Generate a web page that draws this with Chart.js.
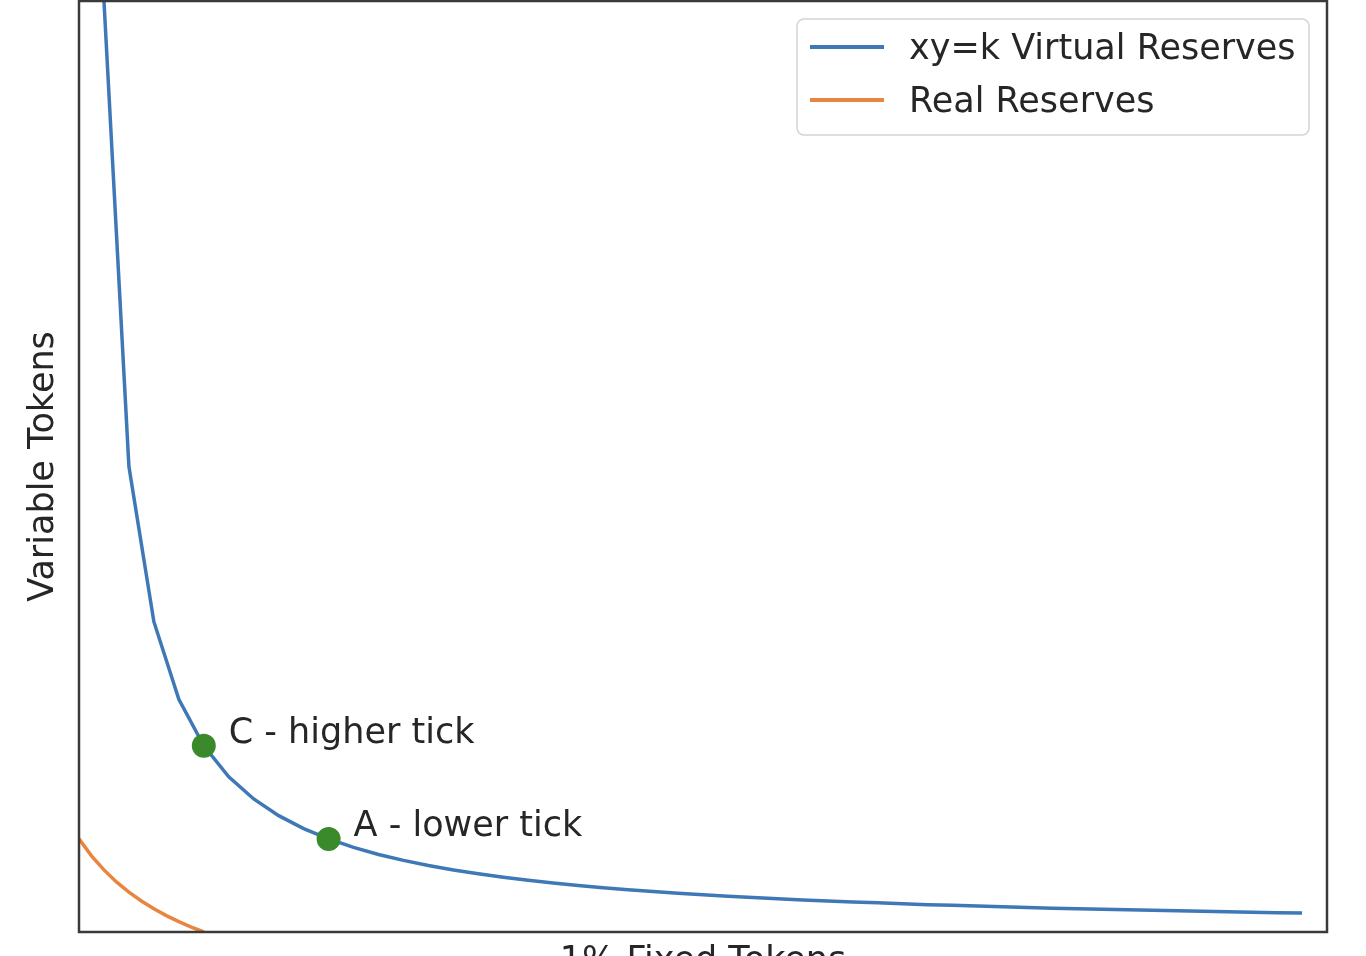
<!DOCTYPE html>
<html>
<head>
<meta charset="utf-8">
<script src="https://cdn.jsdelivr.net/npm/chart.js@4.4.1/dist/chart.umd.min.js"></script>
<style>
  html, body { margin: 0; padding: 0; background: #ffffff; overflow: hidden; }
  #wrap { position: relative; width: 1366px; height: 1000px; }
</style>
</head>
<body>
<div id="wrap"><canvas id="c"></canvas></div>
<script>
// ---- data ----
const fixedTokens = [1,2,3,4,5,6,7,8,9,10,11,12,13,14,15,16,17,18,19,20,21,22,23,24,25,26,27,28,29,30,31,32,33,34,35,36,37,38,39,40,41,42,43,44,45,46,47,48,49];
const virtualReserves = [100,50,33.33,25,20,16.67,14.29,12.5,11.11,10,9.09,8.33,7.69,7.14,6.67,6.25,5.88,5.56,5.26,5,4.76,4.55,4.35,4.17,4,3.85,3.7,3.57,3.45,3.33,3.23,3.13,3.03,2.94,2.86,2.78,2.7,2.63,2.56,2.5,2.44,2.38,2.33,2.27,2.22,2.17,2.13,2.08,2.04];
const realFixed = [0,0.5,1,1.5,2,2.5,3,3.5,4,4.5,5];
const realReserves = [10,8.18,6.67,5.38,4.29,3.33,2.5,1.76,1.11,0.53,0];
const tickX = [5, 10];
const tickY = [20, 10];
const tickLabels = ['C - higher tick', 'A - lower tick'];
const seriesLabels = ['xy=k Virtual Reserves', 'Real Reserves'];
const axisTitles = { x: '1% Fixed Tokens', y: 'Variable Tokens' };
const xRange = [0, 50];
const yRange = [0, 100];

const FONT = 'DejaVu Sans';
const FONT_SIZE = 35;
const BLUE = '#3f78b6';
const ORANGE = '#e8853f';
const GREEN = '#3a8a2c';

const toXY = (xs, ys) => xs.map((x, i) => ({ x: x, y: ys[i] }));

const framePlugin = {
  id: 'frame',
  afterDatasetsDraw(chart) {
    const { ctx, chartArea: a } = chart;
    ctx.save();
    ctx.strokeStyle = '#3a3a3a';
    ctx.lineWidth = 2.5;
    ctx.strokeRect(a.left, a.top, a.right - a.left, a.bottom - a.top);
    ctx.restore();
  }
};

const annotationPlugin = {
  id: 'tickLabels',
  afterDatasetsDraw(chart) {
    const { ctx, scales } = chart;
    ctx.save();
    ctx.font = FONT_SIZE + 'px "' + FONT + '"';
    ctx.fillStyle = '#262626';
    ctx.textBaseline = 'middle';
    ctx.textAlign = 'left';
    tickLabels.forEach((t, i) => {
      const px = scales.x.getPixelForValue(tickX[i]);
      const py = scales.y.getPixelForValue(tickY[i]);
      ctx.fillText(t, px + 25, py - 12);
    });
    ctx.restore();
  }
};

const legendPlugin = {
  id: 'mplLegend',
  afterDraw(chart) {
    const { ctx } = chart;
    const items = chart.data.datasets.filter(d => d.label);
    const x0 = 797, y0 = 19, w = 512, h = 116, r = 7;
    ctx.save();
    ctx.beginPath();
    ctx.roundRect(x0, y0, w, h, r);
    ctx.fillStyle = 'rgba(255,255,255,0.85)';
    ctx.fill();
    ctx.strokeStyle = '#d4d4d4';
    ctx.lineWidth = 1.5;
    ctx.stroke();
    ctx.font = FONT_SIZE + 'px "' + FONT + '"';
    ctx.textBaseline = 'middle';
    ctx.textAlign = 'left';
    items.forEach((d, i) => {
      const y = 47 + i * 53;
      ctx.beginPath();
      ctx.moveTo(810, y);
      ctx.lineTo(884, y);
      ctx.strokeStyle = d.borderColor;
      ctx.lineWidth = 4;
      ctx.stroke();
      ctx.fillStyle = '#262626';
      ctx.fillText(d.label, 909, y + 3);
    });
    ctx.restore();
  }
};

new Chart(document.getElementById('c'), {
  type: 'scatter',
  data: {
    datasets: [
      {
        label: seriesLabels[0],
        data: toXY(fixedTokens, virtualReserves),
        showLine: true,
        borderColor: BLUE,
        borderWidth: 3.5,
        pointRadius: 0,
        tension: 0,
        clip: 0,
        order: 2
      },
      {
        label: seriesLabels[1],
        data: toXY(realFixed, realReserves),
        showLine: true,
        borderColor: ORANGE,
        borderWidth: 3.5,
        pointRadius: 0,
        tension: 0,
        clip: 0,
        order: 2
      },
      {
        data: toXY(tickX, tickY),
        showLine: false,
        pointRadius: 12,
        pointBackgroundColor: GREEN,
        pointBorderColor: GREEN,
        pointBorderWidth: 0,
        clip: false,
        order: 1
      }
    ]
  },
  options: {
    responsive: true,
    maintainAspectRatio: false,
    animation: false,
    events: [],
    layout: { autoPadding: false, padding: { left: 0, top: 1, right: 39, bottom: 0 } },
    plugins: {
      legend: { display: false },
      tooltip: { enabled: false }
    },
    scales: {
      x: {
        type: 'linear',
        min: xRange[0],
        max: xRange[1],
        grid: { display: false },
        border: { display: false },
        ticks: { display: false },
        title: {
          display: true,
          text: axisTitles.x,
          color: '#262626',
          font: { family: FONT, size: FONT_SIZE },
          padding: { top: 0, bottom: 17 }
        },
        afterFit(scale) { scale.height = 68; }
      },
      y: {
        type: 'linear',
        min: yRange[0],
        max: yRange[1],
        grid: { display: false },
        border: { display: false },
        ticks: { display: false },
        title: {
          display: true,
          text: axisTitles.y,
          color: '#262626',
          font: { family: FONT, size: FONT_SIZE },
          padding: { top: 23, bottom: 0 }
        },
        afterFit(scale) { scale.width = 79; }
      }
    }
  },
  plugins: [framePlugin, annotationPlugin, legendPlugin]
});
</script>
</body>
</html>
